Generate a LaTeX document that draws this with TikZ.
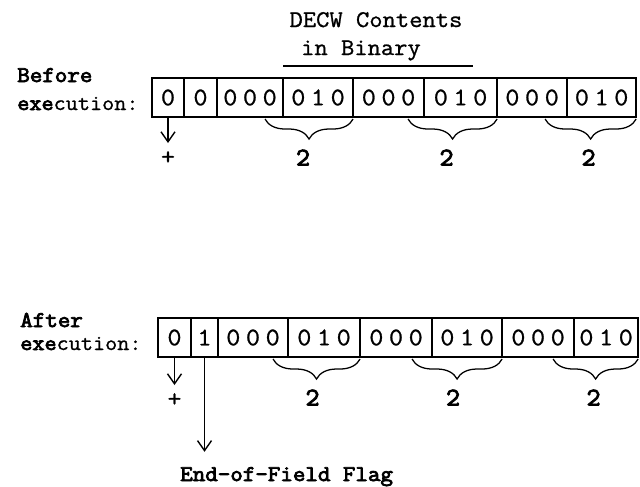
\documentclass[tikz,border=0pt]{standalone}
\usepackage{fontspec}
\setmainfont{Latin Modern Mono}[FakeStretch=1.08, FakeBold=1, BoldFont={Latin Modern Mono}, BoldFeatures={FakeBold=3.5, FakeStretch=1.08}]
\usetikzlibrary{positioning,decorations.pathreplacing,arrows.meta}

\newcommand\cellfont{\fontsize{18}{21}\selectfont}
\newcommand\labfont{\fontsize{16}{19}\selectfont}
\newcommand\execfont{\fontsize{15.5}{18}\selectfont}
\newcommand\trip[3]{#1\hspace{4pt}#2\hspace{4pt}#3}

\begin{document}
\begin{tikzpicture}[x=0.025cm, y=-0.025cm,
    cell/.style = {
        draw, line width=1pt, outer sep=0pt, inner sep=0pt,
        minimum height=0.975cm, minimum width=#1, font=\cellfont
    },
    lab/.style = {inner sep=0pt, anchor=base west, font=\labfont},
    num/.style = {inner sep=0pt, font=\cellfont\bfseries},
    sign/.style = {inner sep=0pt, font=\cellfont},
    brc/.style = {decorate, line width=0.9pt, decoration={brace, mirror, amplitude=0.5cm, raise=0.05cm}},
    arr/.style = {-{Straight Barb[length=2.5mm, width=3.5mm]}, line width=1pt}
]
    \useasboundingbox (0,0) rectangle (640,487);

    % Title
    \node[lab, anchor=base, font=\fontsize{17}{20}\selectfont] (title1) at (376,27) {DECW Contents};
    \node[lab, anchor=base, font=\fontsize{17}{20}\selectfont] (title2) at (361,55) {in Binary};
    \draw[line width=1pt] (283,66) -- (473,66);

    % Labels
    \node[lab, font=\labfont\bfseries] (before) at (17,82) {Before};
    \node[lab, font=\execfont] (exec1) at (17,110) {\textbf{exe}cution:};
    \node[lab, font=\labfont\bfseries] (after) at (20,327) {After};
    \node[lab, font=\execfont] (exec2) at (20,350) {\textbf{exe}cution:};

    % Before: cells
    \node[cell=0.8cm, anchor=north west] (t1) at (152,78) {0};
    \node[cell=0.825cm, right=0pt of t1] (t2) {0};
    \node[cell=1.65cm, right=0pt of t2] (t3) {\trip000};
    \node[cell=1.75cm, right=0pt of t3] (t4) {\trip010};
    \node[cell=1.775cm, right=0pt of t4] (t5) {\trip000};
    \node[cell=1.825cm, right=0pt of t5] (t6) {\trip010};
    \node[cell=1.75cm, right=0pt of t6] (t7) {\trip000};
    \node[cell=1.725cm, right=0pt of t7] (t8) {\trip010};

    % Before: sign and digits
    \node[sign, below=0.85cm of t1] (p1) {+};
    \draw[arr, shorten >=0.2cm] (t1) -- (p1);
    \draw[brc] ([xshift=-0.45cm]t3.south east) -- (t4.south east)
        node[num, midway, below=0.8cm, xshift=-0.15cm] {2};
    \draw[brc] ([xshift=-0.4cm]t5.south east) -- (t6.south east)
        node[num, midway, below=0.8cm, xshift=-0.15cm] {2};
    \draw[brc] ([xshift=-0.55cm]t7.south east) -- (t8.south east)
        node[num, midway, below=0.8cm, xshift=-0.05cm] {2};

    % After: cells
    \node[cell=0.825cm, anchor=north west] (b1) at (158,318) {0};
    \node[cell=0.675cm, right=0pt of b1] (b2) {1};
    \node[cell=1.75cm, right=0pt of b2] (b3) {\trip000};
    \node[cell=1.8cm, right=0pt of b3] (b4) {\trip010};
    \node[cell=1.8cm, right=0pt of b4] (b5) {\trip000};
    \node[cell=1.75cm, right=0pt of b5] (b6) {\trip010};
    \node[cell=1.8cm, right=0pt of b6] (b7) {\trip000};
    \node[cell=1.6cm, right=0pt of b7] (b8) {\trip010};

    % After: sign, digits and flag
    \node[sign, below=0.9cm of b1] (p2) {+};
    \draw[arr, shorten >=0.2cm] (b1) -- (p2);
    \draw[brc] ([xshift=-0.375cm]b3.south east) -- (b4.south east)
        node[num, midway, below=0.8cm, xshift=-0.1cm] {2};
    \draw[brc] ([xshift=-0.5cm]b5.south east) -- (b6.south east)
        node[num, midway, below=0.8cm, xshift=-0.1cm] {2};
    \draw[brc] ([xshift=-0.525cm]b7.south east) -- (b8.south east)
        node[num, midway, below=0.8cm, xshift=-0.05cm] {2};

    \node[lab, font=\labfont\bfseries] (flag) at (180,481) {End-of-Field Flag};
    \draw[arr, shorten >=0.375cm] (b2.south) -- (b2.south |- flag.north);
\end{tikzpicture}
\end{document}
